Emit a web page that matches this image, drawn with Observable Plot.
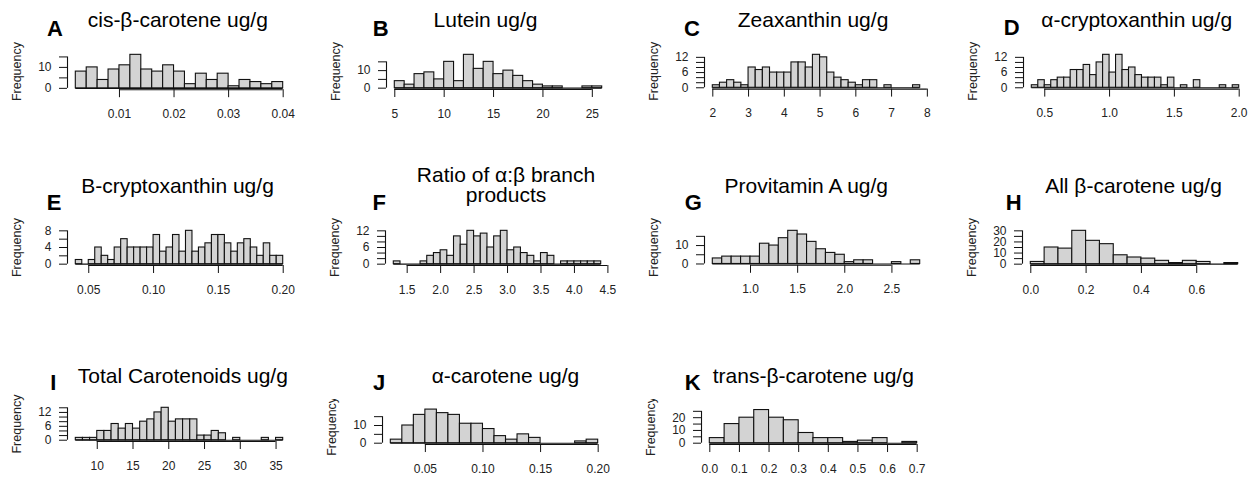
<!DOCTYPE html>
<html>
<head>
<meta charset="utf-8">
<script src="https://cdn.jsdelivr.net/npm/d3@7"></script>
<script src="https://cdn.jsdelivr.net/npm/@observablehq/plot@0.6"></script>
<style>
  body { margin: 0; background: #fff; }
  #fig { position: relative; width: 1255px; height: 478px; overflow: hidden; background: #fff;
         font-family: "Liberation Sans", Arial, Helvetica, sans-serif; }
  .panel { position: absolute; overflow: hidden; }
  .title { position: absolute; font-size: 21px; line-height: 21px; white-space: nowrap; color: #000;
           transform: translateX(-50%); }
  .letter { position: absolute; font-size: 22px; line-height: 22px; font-weight: bold; color: #000;
            transform: translateX(-50%); }
</style>
</head>
<body>
<div id="fig"></div>
<script>
// Histogram counts per bin (equal-width bins, first break and bin width given alongside)
const cisBetaCarotene    = [8, 10, 4, 9, 11, 16, 9, 8, 11, 8, 2, 7, 4, 7, 1, 4, 3, 2, 3];
const lutein             = [4, 2, 8, 9, 5, 15, 4, 19, 11, 15, 8, 10, 7, 4, 2, 1, 1, 0, 0, 1, 1];
const zeaxanthin         = [1, 2, 3, 2, 1, 8, 7, 8, 6, 6, 6, 10, 10, 8, 13, 12, 6, 4, 3, 2, 1, 3, 3, 0, 1, 0, 0, 0, 1];
const alphaCryptoxanthin = [1, 3, 1, 3, 4, 4, 7, 7, 9, 5, 10, 13, 6, 13, 7, 8, 5, 4, 4, 4, 1, 4, 0, 1, 0, 3, 0, 0, 0, 1, 0, 1];
const betaCryptoxanthin  = [1, 0, 1, 4, 2, 1, 4, 6, 4, 4, 4, 4, 7, 3, 4, 7, 3, 8, 3, 4, 5, 7, 7, 5, 3, 5, 6, 4, 2, 5, 2, 2];
const branchRatio        = [1, 0, 0, 0, 1, 3, 4, 5, 3, 10, 7, 12, 10, 11, 6, 10, 12, 5, 6, 4, 3, 1, 4, 3, 0, 1, 1, 1, 1, 1, 1];
const provitaminA        = [3, 4, 4, 4, 4, 11, 10, 14, 18, 16, 12, 8, 6, 5, 1, 2, 2, 0, 0, 1, 0, 2];
const allBetaCarotene    = [2, 15, 14, 30, 21, 18, 8, 6, 5, 3, 1, 3, 2, 0, 1];
const totalCarotenoids   = [1, 1, 1, 4, 4, 7, 5, 7, 5, 8, 9, 12, 14, 8, 9, 9, 9, 2, 2, 4, 3, 0, 1, 0, 0, 0, 1, 0, 1];
const alphaCarotene      = [2, 10, 16, 19, 17, 16, 11, 11, 8, 4, 2, 5, 3, 0, 0, 0, 1, 2];
const transBetaCarotene  = [4, 15, 20, 26, 20, 18, 8, 4, 4, 1, 2, 4, 0, 1];

// First break and bin width of each histogram
const firstBreaks = [0.002, 5, 2, 0.4, 0.04, 1.3, 0.6, 0, 7, 0.02, 0];
const binWidths   = [0.002, 1, 0.2, 0.05, 0.005, 0.1, 0.1, 0.05, 1, 0.01, 0.05];

// Axis ticks
const xTicksA = [0.01, 0.02, 0.03, 0.04];
const xTicksB = [5, 10, 15, 20, 25];
const xTicksC = [2, 3, 4, 5, 6, 7, 8];
const xTicksD = [0.5, 1.0, 1.5, 2.0];
const xTicksE = [0.05, 0.10, 0.15, 0.20];
const xTicksF = [1.5, 2.0, 2.5, 3.0, 3.5, 4.0, 4.5];
const xTicksG = [1.0, 1.5, 2.0, 2.5];
const xTicksH = [0.0, 0.2, 0.4, 0.6];
const xTicksI = [10, 15, 20, 25, 30, 35];
const xTicksJ = [0.05, 0.10, 0.15, 0.20];
const xTicksK = [0.0, 0.1, 0.2, 0.3, 0.4, 0.5, 0.6, 0.7];
const xDigits = [2, 0, 0, 1, 2, 1, 1, 1, 0, 2, 1];

const yTicks5  = [0, 5, 10, 15];
const yTicks2  = [0, 2, 4, 6, 8, 10, 12];
const yTicksE  = [0, 2, 4, 6, 8];
const yTicksH  = [0, 5, 10, 15, 20, 25, 30];
const yTicksI  = [0, 2, 4, 6, 8, 10, 12, 14];
const yTicksK  = [0, 5, 10, 15, 20, 25];
const yLabels10 = [0, 10];
const yLabels6  = [0, 6, 12];
const yLabelsE  = [0, 4, 8];
const yLabelsH  = [0, 10, 20, 30];
const yLabelsK  = [0, 10, 20];

const letters = ["A", "B", "C", "D", "E", "F", "G", "H", "I", "J", "K"];
const titles = [
  ["cis-β-carotene ug/g"], ["Lutein ug/g"], ["Zeaxanthin ug/g"], ["α-cryptoxanthin ug/g"],
  ["B-cryptoxanthin ug/g"], ["Ratio of α:β branch", "products"], ["Provitamin A ug/g"], ["All β-carotene ug/g"],
  ["Total Carotenoids ug/g"], ["α-carotene ug/g"], ["trans-β-carotene ug/g"]
];

const series = [cisBetaCarotene, lutein, zeaxanthin, alphaCryptoxanthin, betaCryptoxanthin, branchRatio,
                provitaminA, allBetaCarotene, totalCarotenoids, alphaCarotene, transBetaCarotene];
const xTicks = [xTicksA, xTicksB, xTicksC, xTicksD, xTicksE, xTicksF, xTicksG, xTicksH, xTicksI, xTicksJ, xTicksK];
const yTicks = [yTicks5, yTicks5, yTicks2, yTicks2, yTicksE, yTicks2, yTicks5, yTicksH, yTicksI, yTicks5, yTicksK];
const yLabels = [yLabels10, yLabels10, yLabels6, yLabels6, yLabelsE, yLabels6, yLabels10, yLabelsH, yLabels6, yLabels10, yLabelsK];

// Page layout of each panel: plot-region left edge, zero line, plot-region height,
// title centre / baselines, letter centre / baseline, optional clip top
const layout = [
  {left: 67.4,   zero: 87.7,  h: 36.2, tx: 177.8,  ty: [27.2],         lx: 55,     ly: 36.7},
  {left: 385.5,  zero: 87.7,  h: 36.0, tx: 485.5,  ty: [27.2],         lx: 380.8,  ly: 36.2},
  {left: 704.3,  zero: 87.7,  h: 35.6, tx: 813,    ty: [27.2],         lx: 692,    ly: 36.2},
  {left: 1022.7, zero: 87.7,  h: 35.6, tx: 1136.7, ty: [27.2],         lx: 1011.7, ly: 35.7},
  {left: 67.0,   zero: 263.3, h: 36.0, tx: 177.5,  ty: [192.6],        lx: 54.2,   ly: 210.7},
  {left: 385.0,  zero: 263.3, h: 36.0, tx: 506,    ty: [181.6, 202.2], lx: 379.2,  ly: 210.5},
  {left: 704.0,  zero: 263.3, h: 35.8, tx: 806.3,  ty: [192.6],        lx: 693.3,  ly: 210.7},
  {left: 1022.4, zero: 263.3, h: 36.0, tx: 1133.5, ty: [192.6],        lx: 1013.8, ly: 210.7},
  {left: 67.0,   zero: 439.3, h: 35.0, tx: 182.8,  ty: [382.7],        lx: 53.3,   ly: 390.7},
  {left: 382.3,  zero: 442.7, h: 36.3, tx: 505.5,  ty: [382.7],        lx: 379.2,  ly: 390.7, clipTop: 399},
  {left: 701.0,  zero: 442.7, h: 35.8, tx: 813.3,  ty: [382.7],        lx: 692.8,  ly: 390.7, clipTop: 399}
];

const FONT = '"Liberation Sans", Arial, Helvetica, sans-serif';
const REGION_W = 224;
const fig = document.getElementById("fig");

function drawPanel(i) {
  const counts = series[i], g = layout[i];
  const lo = firstBreaks[i], step = binWidths[i];
  const hi = lo + counts.length * step;
  const pad = 0.04 * (hi - lo);
  const M = d3.max(counts);
  const bins = counts.map((c, k) => ({x1: lo + k * step, x2: lo + (k + 1) * step, y1: 0, y2: c}));
  const xt = xTicks[i], yt = yTicks[i], yl = yLabels[i];

  const regionTop = g.zero - g.h * 1.04 / 1.08;
  const regionBottom = g.zero + g.h * 0.04 / 1.08;
  const svgTop = g.clipTop ?? regionTop - 26;
  const mL = 72, mR = 14, mB = 38;
  const mT = regionTop - svgTop;
  const width = mL + REGION_W + mR;
  const height = mT + (regionBottom - regionTop) + mB;

  const chart = Plot.plot({
    width, height,
    marginLeft: mL, marginRight: mR, marginTop: mT, marginBottom: mB,
    style: {fontFamily: FONT, fontSize: "12px", background: "transparent", overflow: "hidden"},
    x: {domain: [lo - pad, hi + pad]},
    y: {domain: [-0.04 * M, 1.04 * M]},
    marks: [
      // bar bottoms (also shows empty bins as a line)
      Plot.ruleY([0], {x1: lo, x2: hi, stroke: "#111", strokeWidth: 1.1}),
      Plot.rect(bins, {x1: "x1", x2: "x2", y1: "y1", y2: "y2", fill: "#d3d3d3", stroke: "#111", strokeWidth: 1.1}),
      // x axis line spanning first to last tick
      Plot.ruleY([-0.04 * M], {x1: xt[0], x2: xt[xt.length - 1], stroke: "#111", strokeWidth: 1.1}),
      Plot.axisX({ticks: xt, tickSize: 8, tickPadding: 11.5, label: null,
                  tickFormat: d => d.toFixed(xDigits[i]), stroke: "#111", fill: "#222", fontSize: 12}),
      // y axis line spanning first to last tick
      Plot.ruleX([lo - pad], {y1: yt[0], y2: yt[yt.length - 1], stroke: "#111", strokeWidth: 1.1}),
      Plot.axisY({ticks: yt, tickSize: 8, tickPadding: 8, label: null,
                  tickFormat: d => (yl.includes(d) ? String(d) : ""), stroke: "#111", fill: "#222", fontSize: 12}),
      Plot.text(["Frequency"], {text: d => d, frameAnchor: "left", textAnchor: "middle", dx: -51, rotate: -90,
                                fontSize: 12.5, fill: "#222"})
    ]
  });

  const wrap = document.createElement("div");
  wrap.className = "panel";
  wrap.style.left = (g.left - mL) + "px";
  wrap.style.top = svgTop + "px";
  wrap.style.width = width + "px";
  wrap.style.height = height + "px";
  wrap.appendChild(chart);
  fig.appendChild(wrap);

  titles[i].forEach((line, k) => {
    const t = document.createElement("div");
    t.className = "title";
    t.textContent = line;
    t.style.left = g.tx + "px";
    t.style.top = (g.ty[k] - 0.8465 * 21) + "px";
    fig.appendChild(t);
  });

  const L = document.createElement("div");
  L.className = "letter";
  L.textContent = letters[i];
  L.style.left = g.lx + "px";
  L.style.top = (g.ly - 0.8465 * 22) + "px";
  fig.appendChild(L);
}

for (let i = 0; i < series.length; i++) drawPanel(i);
</script>
</body>
</html>
